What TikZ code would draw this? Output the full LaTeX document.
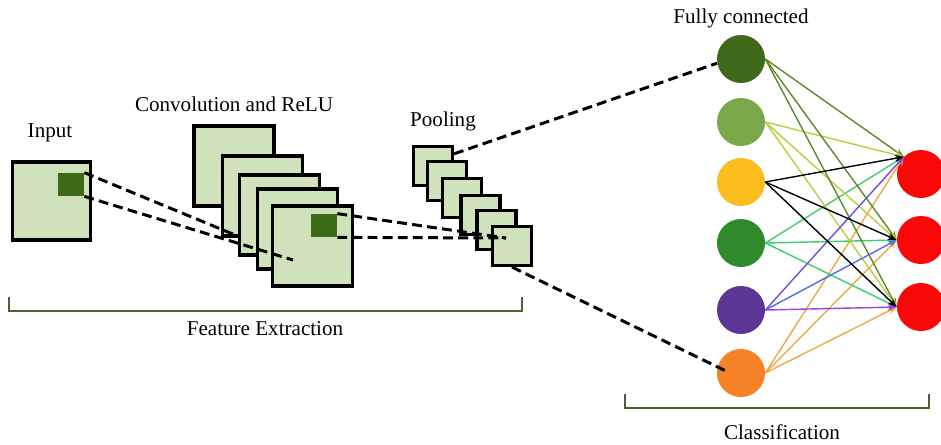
\documentclass[tikz,border=0pt]{standalone}
\usepackage{fontspec}
\setmainfont{Liberation Serif}
\usetikzlibrary{arrows.meta}

\definecolor{sqfill}{RGB}{207,226,188}
\definecolor{kern}{RGB}{61,107,24}
\definecolor{fcA}{RGB}{64,106,26}
\definecolor{fcB}{RGB}{122,168,74}
\definecolor{fcC}{RGB}{252,190,28}
\definecolor{fcD}{RGB}{46,138,42}
\definecolor{fcE}{RGB}{93,55,150}
\definecolor{fcF}{RGB}{246,130,38}
\definecolor{outred}{RGB}{250,8,8}
\definecolor{brk}{RGB}{72,100,50}
\definecolor{arA}{RGB}{90,140,42}
\definecolor{arB}{RGB}{184,208,64}
\definecolor{arD}{RGB}{64,204,112}
\definecolor{arE}{RGB}{112,80,216}
\definecolor{arEb}{RGB}{80,112,224}
\definecolor{arEc}{RGB}{160,64,224}
\definecolor{arF}{RGB}{240,168,72}

\begin{document}
\begin{tikzpicture}[x=0.02cm,y=-0.02cm,
  fmap/.style={draw=black,line width=1.8pt,fill=sqfill,inner sep=0pt,
    minimum width=#1*0.02cm,minimum height=#1*0.02cm},
  kernel/.style={fill=kern,inner sep=0pt,minimum width=26*0.02cm,minimum height=23*0.02cm},
  neuron/.style={circle,fill=#1,inner sep=0pt,minimum size=48*0.02cm},
  link/.style={dashed,line width=1.7pt,dash pattern=on 5.6pt off 3pt},
  wire/.style={line width=0.8pt,-{Stealth[length=5pt,width=4pt]}},
  bracket/.style={draw=brk,line width=1.1pt},
  lbl/.style={font=\fontsize{12}{14}\selectfont,inner sep=0pt}]

\clip (0,0) rectangle (941,444);
\fill[white] (0,0) rectangle (941,444);

% input image with its receptive field
\node[fmap=78] (inp) at (51.5,201) {};
\node[kernel] (inpk) at (71,184.5) {};

% convolution + ReLU feature maps
\node[fmap=80] (cv1) at (234,166) {};
\node[fmap=80] (cv2) at (262.5,196) {};
\node[fmap=80] (cv3) at (279.5,215) {};
\node[fmap=80] (cv4) at (297.5,229) {};
\node[fmap=80] (cv5) at (312.5,246) {};
\node[kernel] (cvk) at (324,225.5) {};

% pooled maps
\node[fmap=39] (p1) at (433,166) {};
\node[fmap=39] (p2) at (447,181) {};
\node[fmap=39] (p3) at (462,198) {};
\node[fmap=39] (p4) at (480.5,215) {};
\node[fmap=39] (p5) at (496.5,230) {};
\node[fmap=39] (p6) at (512,246) {};

% fully connected layer
\node[neuron=fcA] (f1) at (741,59) {};
\node[neuron=fcB] (f2) at (741,122) {};
\node[neuron=fcC] (f3) at (741,182) {};
\node[neuron=fcD] (f4) at (741,243) {};
\node[neuron=fcE] (f5) at (741,310) {};
\node[neuron=fcF] (f6) at (741,373) {};

% output layer
\node[neuron=outred] (o1) at (921,174) {};
\node[neuron=outred] (o2) at (921,240) {};
\node[neuron=outred] (o3) at (921,307) {};

% projections between stages
\coordinate (ia) at (240,237);
\coordinate (ib) at (293,260);
\coordinate (pc) at (506,238);
\coordinate (fe) at (728,372);
\draw[link] (inpk.north east) -- (ia);
\draw[link] (inpk.south east) -- (ib);
\draw[link] (cvk.north east) -- (pc);
\draw[link] (cvk.south east) -- (pc);
\draw[link] (p1.30) -- (f1.190);
\draw[link] (p6.south) -- (fe);

% dense connections
\foreach \t in {o1.135,o2.west,o3.west} {
  \draw[wire,draw=arA] (f1.east) -- (\t);
  \draw[wire,draw=arB] (f2.east) -- (\t);
  \draw[wire,draw=arD] (f4.east) -- (\t);
  \draw[wire,draw=arF] (f6.east) -- (\t);
}
\draw[wire,draw=arE] (f5.east) -- (o1.135);
\draw[wire,draw=arEb] (f5.east) -- (o2.west);
\draw[wire,draw=arEc] (f5.east) -- (o3.west);
\foreach \t in {o1.135,o2.west,o3.west}
  \draw[wire,draw=black] (f3.east) -- (\t);

% stage labels
\node[lbl] (tin) at (50,133) {Input};
\node[lbl] (tcv) at (234,104) {Convolution and ReLU};
\node[lbl] (tpl) at (443,121) {Pooling};
\node[lbl] (tfc) at (741,18) {Fully connected};

% grouping brackets
\coordinate (fa) at (9,297);
\coordinate (fb) at (522,297);
\draw[bracket] (fa) -- ++(0,14) -| (fb);
\node[lbl] (tfe) at (265,329) {Feature Extraction};
\coordinate (ca) at (625,394);
\coordinate (cb) at (929,394);
\draw[bracket] (ca) -- ++(0,14) -| (cb);
\node[lbl] (tcl) at (782,432) {Classification};
\end{tikzpicture}
\end{document}
